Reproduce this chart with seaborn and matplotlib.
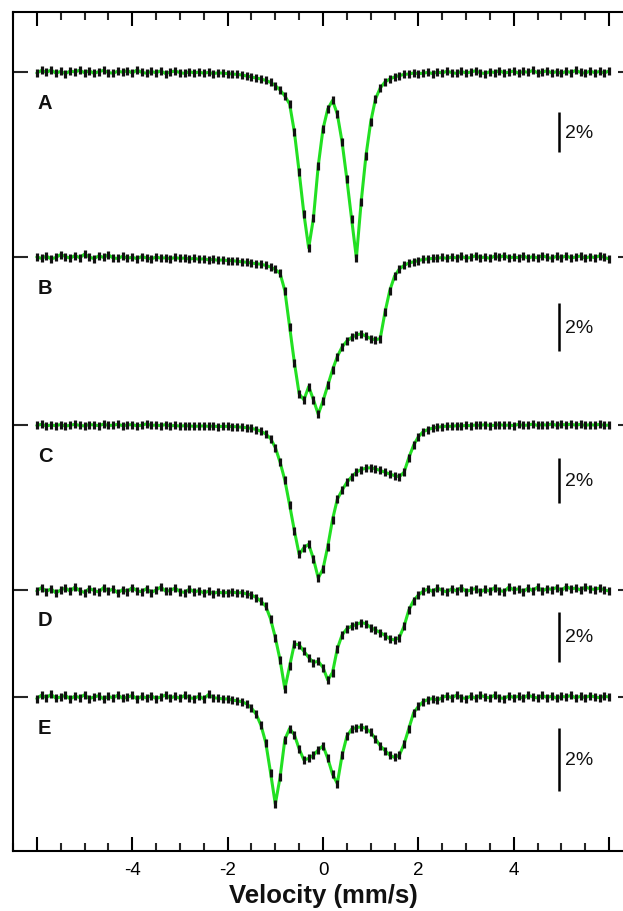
import numpy as np
import pandas as pd
import matplotlib
matplotlib.use("Agg")
import matplotlib.pyplot as plt
import seaborn as sns
from matplotlib.ticker import MultipleLocator

sns.set_theme(style="ticks")
plt.rcParams["font.family"] = ["Liberation Sans", "DejaVu Sans"]

# ---------------- data (absorption in %) ----------------
LABELS = ["A", "B", "C", "D", "E"]
VELOCITY = np.round(np.linspace(-6.0, 6.0, 121), 2)   # mm/s channel grid

ABS_A = [
    0.05, -0.08, 0.02, -0.1, 0.06, -0.03, 0.08, -0.05, 0.0, -0.09,
    0.04, -0.06, 0.07, -0.02, -0.08, 0.03, 0.06, -0.04, 0.01, -0.07,
    0.05, -0.1, 0.02, 0.06, -0.03, 0.04, -0.06, 0.08, 0.0, -0.05,
    0.03, 0.07, -0.02, 0.05, 0.0, 0.06, 0.02, 0.08, 0.04, 0.06,
    0.08, 0.1, 0.12, 0.15, 0.2, 0.25, 0.3, 0.35, 0.42, 0.52,
    0.68, 0.9, 1.2, 1.6, 3.0, 5.0, 7.1, 8.8, 7.3, 4.7,
    2.85, 1.85, 1.42, 2.1, 3.5, 5.35, 7.35, 9.3, 6.5, 4.2,
    2.5, 1.35, 0.8, 0.5, 0.35, 0.25, 0.18, 0.12, 0.1, 0.05, 0.08,
    0.06, 0.02, 0.08, 0.0, 0.05, -0.04, 0.03, 0.07, -0.03, 0.05,
    0.0, -0.06, 0.04, 0.08, -0.02, 0.03, -0.07, 0.05, 0.01, -0.05,
    0.06, -0.03, 0.02, -0.08, 0.04, 0.0, -0.06, 0.05, -0.02, 0.07,
    -0.04, 0.03, -0.08, 0.02, 0.06, -0.05, 0.04, -0.03, 0.05, -0.06,
]
ABS_B = [
    0.0, 0.06, -0.04, 0.08, 0.02, -0.1, -0.02, 0.05, -0.06, 0.03,
    -0.12, 0.0, 0.07, -0.05, 0.02, -0.09, 0.04, 0.06, -0.03, 0.05,
    0.01, 0.07, -0.02, 0.04, 0.08, 0.0, 0.05, 0.03, 0.07, 0.02,
    0.06, 0.04, 0.09, 0.05, 0.1, 0.07, 0.12, 0.1, 0.14, 0.12,
    0.15, 0.15, 0.18, 0.2, 0.22, 0.25, 0.28, 0.3, 0.35, 0.42,
    0.52, 0.68, 1.4, 2.9, 4.4, 5.7, 5.95, 5.4, 5.95, 6.55,
    6.0, 5.35, 4.7, 4.15, 3.75, 3.5, 3.35, 3.25, 3.2, 3.3,
    3.4, 3.45, 3.4, 2.3, 1.4, 0.8, 0.5, 0.35, 0.25, 0.2, 0.15,
    0.1, 0.08, 0.06, 0.05, 0.02, 0.06, 0.0, 0.04, -0.03, 0.05,
    0.02, -0.05, 0.03, 0.0, 0.06, -0.04, 0.02, -0.06, 0.04, 0.0,
    0.03, -0.05, 0.05, -0.02, 0.04, -0.06, 0.02, 0.05, -0.03, 0.03,
    -0.05, 0.04, 0.0, -0.04, 0.05, -0.02, 0.03, -0.05, 0.02, 0.08,
]
ABS_C = [
    0.02, -0.03, 0.04, 0.0, 0.03, -0.02, 0.05, 0.01, -0.03, 0.02,
    0.04, -0.02, 0.0, 0.03, -0.04, 0.02, 0.01, -0.03, 0.03, 0.0,
    -0.02, 0.04, 0.01, -0.05, 0.02, 0.0, 0.03, -0.02, 0.04, 0.02,
    0.05, 0.03, 0.04, 0.06, 0.05, 0.04, 0.06, 0.05, 0.07, 0.06,
    0.06, 0.07, 0.08, 0.1, 0.12, 0.15, 0.2, 0.28, 0.4, 0.6,
    1.0, 1.65, 2.45, 3.55, 4.7, 5.75, 5.45, 5.3, 5.95, 6.8,
    6.4, 5.4, 4.2, 3.3, 2.9, 2.55, 2.3, 2.1, 1.98, 1.92,
    1.9, 1.95, 2.02, 2.1, 2.18, 2.25, 2.3, 2.1, 1.45, 0.9, 0.52,
    0.3, 0.2, 0.14, 0.1, 0.07, 0.05, 0.06, 0.03, 0.04, 0.02,
    0.03, 0.0, 0.02, -0.02, 0.03, 0.01, -0.02, 0.02, 0.0, 0.03,
    -0.03, 0.02, 0.0, -0.04, 0.02, -0.02, 0.01, -0.05, 0.02, -0.03,
    0.0, -0.04, 0.01, -0.03, 0.02, -0.02, 0.01, -0.03, 0.02, 0.0,
]
ABS_D = [
    0.04, -0.1, 0.06, -0.05, 0.12, 0.0, -0.08, 0.05, -0.12, 0.03,
    0.1, -0.06, 0.02, 0.08, -0.1, 0.04, -0.04, 0.12, -0.02, 0.06,
    -0.1, 0.03, 0.07, -0.06, 0.1, 0.0, -0.12, 0.05, 0.02, -0.08,
    0.06, 0.1, -0.04, 0.08, 0.02, 0.12, 0.05, 0.14, 0.08, 0.12,
    0.1, 0.08, 0.12, 0.1, 0.16, 0.2, 0.3, 0.45, 0.65, 1.15,
    1.9, 2.8, 3.95, 3.05, 2.15, 2.2, 2.45, 2.7, 2.9, 2.85,
    3.1, 3.6, 3.3, 2.35, 1.8, 1.55, 1.45, 1.38, 1.3, 1.35,
    1.5, 1.6, 1.7, 1.82, 1.95, 2.0, 1.9, 1.45, 0.8, 0.42, 0.2,
    0.05, -0.04, 0.06, -0.08, 0.02, 0.08, -0.05, 0.04, -0.1, 0.06,
    0.0, -0.06, 0.08, -0.03, 0.05, -0.1, 0.02, 0.06, -0.12, 0.0,
    -0.05, 0.07, -0.08, 0.03, -0.12, 0.04, -0.06, -0.02, -0.1, 0.02,
    -0.14, -0.04, -0.08, 0.0, -0.12, -0.05, -0.02, -0.08, 0.0, 0.04,
]
ABS_E = [
    0.05, -0.06, 0.02, -0.08, 0.04, 0.0, -0.05, 0.06, -0.03, 0.02,
    -0.07, 0.05, 0.0, -0.04, 0.06, -0.02, 0.03, -0.06, 0.04, 0.01,
    -0.05, 0.06, -0.02, 0.03, -0.04, 0.05, 0.0, -0.06, 0.03, -0.02,
    0.04, -0.05, 0.02, 0.05, -0.03, 0.06, -0.08, 0.02, 0.04, 0.06,
    0.06, 0.1, 0.12, 0.15, 0.22, 0.35, 0.55, 0.9, 1.45, 2.4,
    3.4, 2.55, 1.35, 1.0, 1.2, 1.65, 2.0, 1.95, 1.85, 1.68,
    1.55, 1.95, 2.45, 2.75, 1.85, 1.25, 1.02, 0.97, 0.95, 1.0,
    1.12, 1.33, 1.55, 1.7, 1.85, 1.92, 1.85, 1.5, 1.0, 0.5, 0.3,
    0.15, 0.08, 0.05, 0.1, 0.02, -0.04, 0.03, -0.06, 0.02, 0.05,
    -0.03, 0.04, -0.05, 0.0, 0.03, -0.06, 0.02, 0.05, -0.04, 0.02,
    -0.02, 0.04, -0.06, 0.0, 0.03, -0.05, 0.02, -0.03, 0.04, -0.02,
    0.0, -0.05, 0.03, -0.02, 0.02, -0.04, 0.0, 0.02, -0.02, 0.0,
]
SPECTRA = [ABS_A, ABS_B, ABS_C, ABS_D, ABS_E]

X_TICKS = [-6, -4, -2, 0, 2, 4, 6]
X_TICK_LABELS = ["", "-4", "-2", "0", "2", "4", ""]
X_LABEL = "Velocity (mm/s)"
BAR_TEXT = "2%"
BAR_PERCENT = 2.0

# ---------------- layout (pixel positions in a 623 x 912 canvas) ----------------
W, H = 623, 912
BASELINE_PX = [73, 258, 426, 591, 698]
PX_PER_PCT = [20.0, 24.0, 22.5, 25.0, 31.5]
BAR_TOP_PX = [113, 304, 459, 613, 729]
GREEN = "#22e022"

rows = []
for lab, vals, base, sc in zip(LABELS, SPECTRA, BASELINE_PX, PX_PER_PCT):
    assert len(vals) == len(VELOCITY), (lab, len(vals))
    for v, a in zip(VELOCITY, vals):
        rows.append({"spectrum": lab, "velocity": v, "y": base + a * sc})
df = pd.DataFrame(rows)

fig = plt.figure(figsize=(W / 100, H / 100), dpi=100)
ax = fig.add_axes([13 / W, (H - 852) / H, 620 / W, 839 / H])

sns.lineplot(data=df, x="velocity", y="y", units="spectrum", estimator=None,
             sort=False, color=GREEN, linewidth=2.2, ax=ax, legend=False)
sns.scatterplot(data=df, x="velocity", y="y", marker="|", s=26, linewidth=2.3,
                color="#111111", ax=ax, legend=False, zorder=3)

ax.set_xlim(-6.5, 6.5)
ax.set_ylim(852, 13)

for lab, base, sc, top in zip(LABELS, BASELINE_PX, PX_PER_PCT, BAR_TOP_PX):
    ax.text(-5.98, base + 30, lab, fontsize=14.5, fontweight="bold",
            ha="left", va="center", color="#111111")
    ax.plot([4.95, 4.95], [top, top + BAR_PERCENT * sc], color="black", lw=1.8,
            solid_capstyle="butt")
    ax.text(5.08, top + BAR_PERCENT * sc / 2, BAR_TEXT, fontsize=14,
            ha="left", va="center", color="#111111")

ax.set_xticks(X_TICKS)
ax.set_xticklabels(X_TICK_LABELS)
ax.xaxis.set_minor_locator(MultipleLocator(0.5))
ax.set_yticks(BASELINE_PX)
ax.set_yticklabels([])
ax.tick_params(axis="x", which="major", direction="in", length=10, width=1.5,
               top=True, bottom=True, labelsize=13.5, pad=7, colors="black")
ax.tick_params(axis="x", which="minor", direction="in", length=5.5, width=1.5,
               top=True, bottom=True)
ax.tick_params(axis="y", which="major", direction="in", length=11, width=1.5,
               left=True, right=True, labelleft=False)
for sp in ax.spines.values():
    sp.set_color("black")
    sp.set_linewidth(1.5)
    sp.set_visible(True)
ax.set_xlabel(X_LABEL, fontsize=18.5, fontweight="bold", labelpad=4, color="#111111")
ax.set_ylabel("")

fig.savefig("out.png", dpi=100)
